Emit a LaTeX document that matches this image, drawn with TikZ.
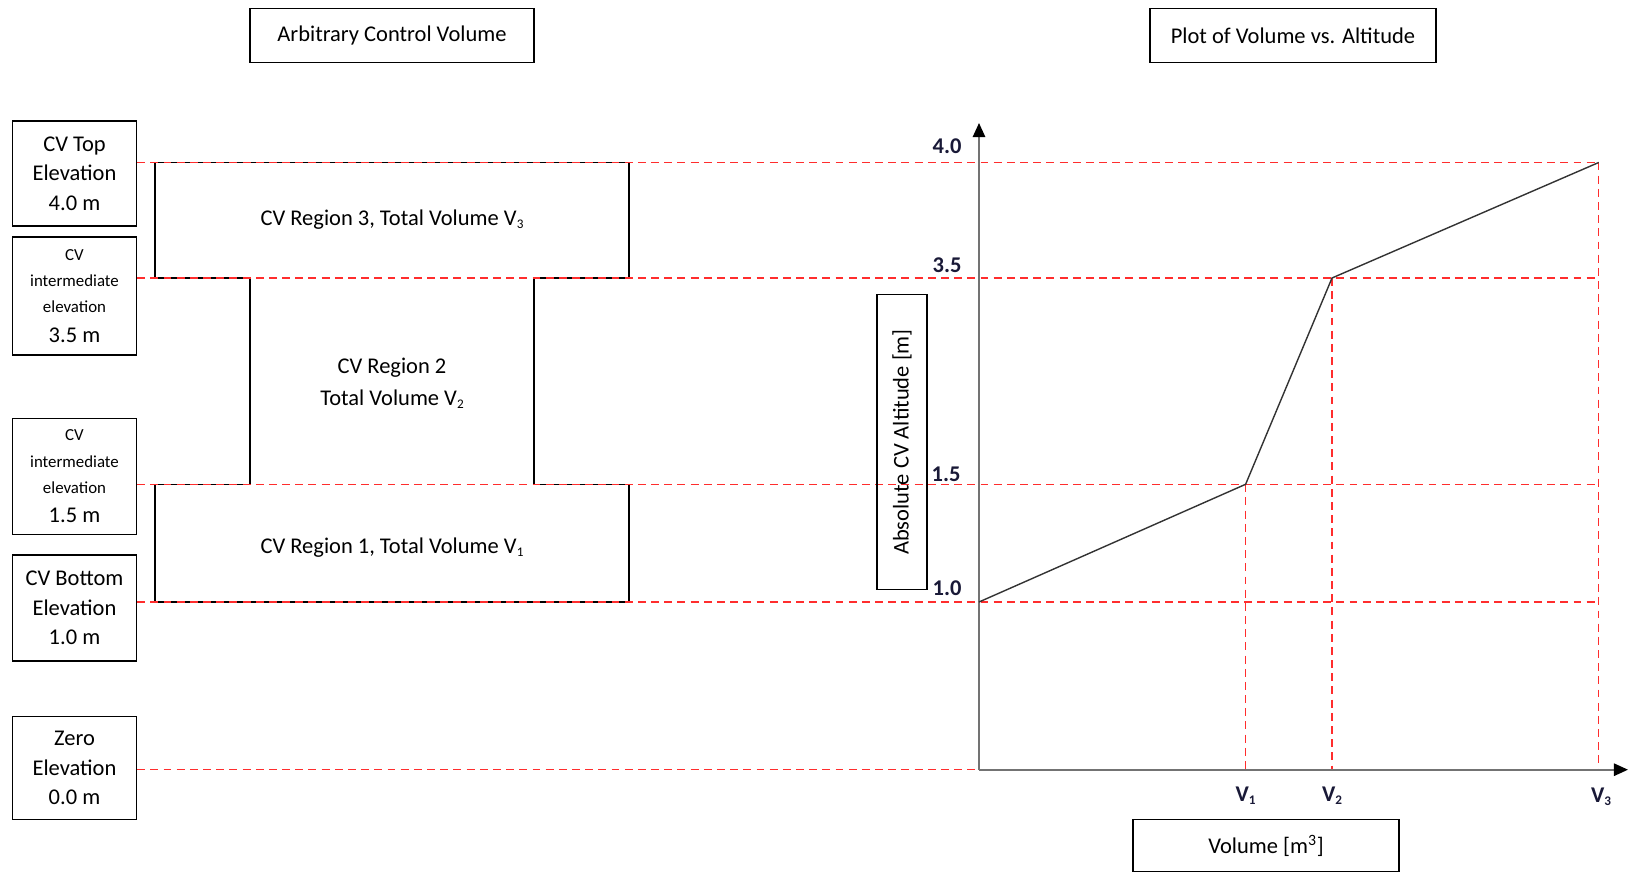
\documentclass[tikz,border=0pt]{standalone}
\usepackage{fontspec}
\setmainfont{Carlito}
\usetikzlibrary{arrows.meta}
\definecolor{levelred}{RGB}{255,45,45}
\definecolor{axisgray}{RGB}{115,115,115}
\definecolor{ticknavy}{RGB}{25,25,55}
\newcommand{\bigfnt}{\fontsize{12.8}{16.9}\selectfont}
\newcommand{\smallfnt}{\fontsize{9.6}{13.9}\selectfont}
\newcommand{\vsub}[1]{\raisebox{-0.25ex}{\fontsize{7.5}{9}\selectfont #1}}

\begin{document}
\begin{tikzpicture}[x=0.02cm, y=-0.02cm,
    box/.style={draw, line width=0.8pt, align=center, inner sep=0pt, font=\bigfnt},
    elevbox/.style={box, minimum width=2.48cm},
    levelline/.style={draw=levelred, line width=0.8pt, dash pattern=on 4.5pt off 3pt},
    axisline/.style={draw=axisgray, line width=1.1pt, -{Triangle[length=8pt, width=7pt, color=black]}},
    ticklabel/.style={font=\bigfnt\bfseries, text=ticknavy, inner sep=0pt}]
    \useasboundingbox (0,0) rectangle (1633,874);

    % Titles
    \node[box, minimum width=5.68cm, minimum height=1.08cm] (title1) at (392,35.4) {Arbitrary Control Volume};
    \node[box, minimum width=5.72cm, minimum height=1.08cm] (title2) at (1293,35.4) {Plot of Volume vs. Altitude};

    % Elevation boxes
    \node[elevbox, minimum height=2.1cm] (cvtop) at (74.5,173.5) {CV Top\\Elevation\\4.0 m};
    \node[elevbox, minimum height=2.36cm] (inter35) at (74.5,296) {\smallfnt CV\\[-2pt]\smallfnt intermediate\\[-2pt]\smallfnt elevation\\\bigfnt 3.5 m};
    \node[elevbox, minimum height=2.32cm] (inter15) at (74.5,476.5) {\smallfnt CV\\[-2pt]\smallfnt intermediate\\[-2pt]\smallfnt elevation\\\bigfnt 1.5 m};
    \node[elevbox, minimum height=2.12cm] (cvbot) at (74.5,608) {CV Bottom\\Elevation\\1.0 m};
    \node[elevbox, minimum height=2.06cm] (zero) at (74.5,768) {Zero\\Elevation\\0.0 m};

    % Control volume outline
    \draw[line width=0.8pt] (155,162.5) -- (629,162.5) -- (629,278) -- (534,278) -- (534,484.3)
        -- (629,484.3) -- (629,602) -- (155,602) -- (155,484.3) -- (250,484.3) -- (250,278)
        -- (155,278) -- cycle;
    \node[font=\bigfnt] (reg3) at (392,219.8) {CV Region 3, Total Volume V\vsub{3}};
    \node[font=\bigfnt, align=center] (reg2) at (392,383) {CV Region 2\\[1.5pt]Total Volume V\vsub{2}};
    \node[font=\bigfnt] (reg1) at (392,548) {CV Region 1, Total Volume V\vsub{1}};

    % Curve points
    \coordinate (o) at (979,769.7);
    \coordinate (p0) at (979,602);
    \coordinate (p1) at (1245.6,484.3);
    \coordinate (p2) at (1332,278);
    \coordinate (p3) at (1598.7,162.5);
    \coordinate (ytip) at (979,123);
    \coordinate (xtip) at (1628,769.7);

    % Elevation levels
    \draw[levelline] (cvtop.east |- p3) -- (p3);
    \draw[levelline] (inter35.east |- p2) -- (p2 -| p3);
    \draw[levelline] (inter15.east |- p1) -- (p1 -| p3);
    \draw[levelline] (cvbot.east |- p0) -- (p0 -| p3);
    \draw[levelline] (zero.east |- o) -- (o);
    \draw[levelline] (p1) -- (p1 |- o);
    \draw[levelline] (p2) -- (p2 |- o);
    \draw[levelline] (p3) -- (p3 |- o);

    % Axes
    \draw[axisline] (o) -- (ytip);
    \draw[axisline] (o) -- (xtip);
    \draw[line width=0.8pt, draw=black!80] (p0) -- (p1) -- (p2) -- (p3);

    % Tick labels
    \node[ticklabel] (t40) at (947,146) {4.0};
    \node[ticklabel] (t35) at (947,265.6) {3.5};
    \node[ticklabel] (t15) at (946,474) {1.5};
    \node[ticklabel] (t10) at (947,588.5) {1.0};
    \node[ticklabel] (v1) at (p1 |- 0,795.7) {V\vsub{1}};
    \node[ticklabel] (v2) at (p2 |- 0,795.7) {V\vsub{2}};
    \node[ticklabel] (v3) at (1601,797) {V\vsub{3}};

    % Axis titles
    \node[box, rotate=90, minimum width=5.9cm, minimum height=1.0cm] (ylab) at (902,442) {Absolute CV Altitude [m]};
    \node[box, minimum width=5.32cm, minimum height=1.04cm] (xlab) at (1266,845.7) {Volume [m\textsuperscript{3}]};
\end{tikzpicture}
\end{document}
